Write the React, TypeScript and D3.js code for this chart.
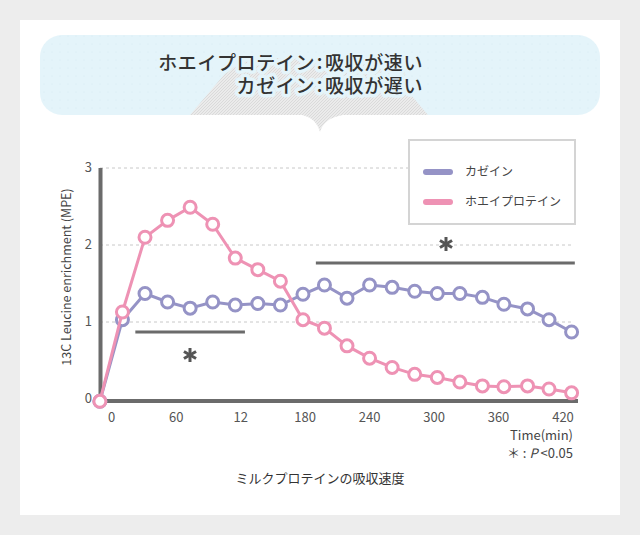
import React from "react";
import * as d3 from "d3";

const times = [-11, 10, 31, 52, 73, 94, 115, 136, 157, 178, 198, 219, 240, 261, 282, 303, 324, 345, 365, 387, 407, 428];
const casein = [-0.03, 1.03, 1.37, 1.26, 1.18, 1.26, 1.22, 1.24, 1.22, 1.36, 1.48, 1.31, 1.48, 1.45, 1.4, 1.37, 1.37, 1.32, 1.23, 1.17, 1.03, 0.87];
const whey = [-0.03, 1.13, 2.1, 2.32, 2.49, 2.27, 1.83, 1.68, 1.53, 1.03, 0.92, 0.69, 0.53, 0.41, 0.32, 0.28, 0.22, 0.17, 0.16, 0.17, 0.13, 0.08];
const xTicks = [0, 60, 120, 180, 240, 300, 360, 420];
const xTickLabels = ["0", "60", "12", "180", "240", "300", "360", "420"];
const yTicks = [0, 1, 2, 3];
const seriesNames = ["カゼイン", "ホエイプロテイン"];
const sig1 = [22, 124];
const sig2 = [190, 431];
const headerLines = [
  ["ホエイプロテイン", "吸収が速い"],
  ["カゼイン", "吸収が遅い"],
];

const PURPLE = "#9593c6";
const PINK = "#ee92b4";
const AXIS = "#6b6b6b";
const FONT = "'Noto Sans CJK JP', 'Noto Sans', sans-serif";

function Asterisk({ x, y, r = 7 }: { x: number; y: number; r?: number }) {
  const angles = [90, 30, 150];
  return (
    <g stroke="#555" strokeWidth={3}>
      {angles.map((a) => {
        const rad = (a * Math.PI) / 180;
        return (
          <line key={a} x1={x - r * Math.cos(rad)} y1={y - r * Math.sin(rad)} x2={x + r * Math.cos(rad)} y2={y + r * Math.sin(rad)} />
        );
      })}
    </g>
  );
}

export default function App() {
  const x = d3.scaleLinear().domain([0, 420]).range([111.7, 563]);
  const y = d3.scaleLinear().domain([0, 3]).range([399, 168]);
  const line = d3
    .line<number>()
    .x((_, i) => x(times[i]))
    .y((d) => y(d));
  const series = [
    { name: seriesNames[0], data: casein, color: PURPLE },
    { name: seriesNames[1], data: whey, color: PINK },
  ];
  const halo = { stroke: "#e4f4fa", strokeWidth: 7, paintOrder: "stroke" as const, strokeLinejoin: "round" as const };
  return (
    <svg width={640} height={535} style={{ position: "absolute", left: 0, top: 0 }} fontFamily={FONT}>
      <defs>
        <pattern id="hatch" width="3" height="3" patternUnits="userSpaceOnUse">
          <rect width="3" height="3" fill="#ebebeb" />
          <path d="M0,3 L3,0" stroke="#d6d6d6" strokeWidth="0.8" />
        </pattern>
        <pattern id="dots" width="8" height="8" patternUnits="userSpaceOnUse">
          <rect width="8" height="8" fill="#e4f4fa" />
          <circle cx="4" cy="4" r="0.6" fill="#d6ebf3" />
        </pattern>
      </defs>
      <rect width={640} height={535} fill="#ededed" />
      <rect x={20} y={20} width={600} height={495} fill="#ffffff" />
      {/* header bubble */}
      <rect x={40} y={35} width={560} height={80} rx={22} fill="url(#dots)" />
      <path d="M190,115 L228,70 L252,58 L400,58 L412,96 L428,115 Z" fill="url(#hatch)" />
      <path d="M302,115 Q316,118 320,132 Q324,118 343,115 Z" fill="url(#hatch)" />
      <text fontSize={19} fontWeight={500} fill="#333" letterSpacing={0.6} {...halo}>
        {headerLines.map((l, i) => (
          <React.Fragment key={i}>
            <tspan x={315} y={70 + i * 23} textAnchor="end">{l[0]}</tspan>
            <tspan x={320} y={69 + i * 23} textAnchor="middle">:</tspan>
            <tspan x={325} y={70 + i * 23} textAnchor="start">{l[1]}</tspan>
          </React.Fragment>
        ))}
      </text>
      {/* grid */}
      {yTicks.filter((t) => t > 0).map((t) => (
        <line key={t} x1={100} x2={574} y1={y(t)} y2={y(t)} stroke="#c8c8c8" strokeWidth={1} strokeDasharray="3,3" />
      ))}
      {/* legend */}
      <rect x={409} y={140} width={166} height={84} fill="#fff" stroke="#d4d4d4" strokeWidth={2} />
      {series.map((s, i) => (
        <g key={s.name}>
          <line x1={426} x2={450} y1={172 + i * 30} y2={172 + i * 30} stroke={s.color} strokeWidth={6} strokeLinecap="round" />
          <text x={465} y={176 + i * 30} fontSize={12} fill="#444">{s.name}</text>
        </g>
      ))}
      {/* significance */}
      <line x1={x(sig1[0])} x2={x(sig1[1])} y1={332} y2={332} stroke={AXIS} strokeWidth={3} />
      <Asterisk x={190} y={355} />
      <line x1={x(sig2[0])} x2={x(sig2[1])} y1={263} y2={263} stroke={AXIS} strokeWidth={3} />
      <Asterisk x={446} y={244} />
      {/* axes */}
      <line x1={100.5} x2={100.5} y1={168} y2={403} stroke={AXIS} strokeWidth={4} />
      <line x1={99} x2={578} y1={401} y2={401} stroke={AXIS} strokeWidth={4} />
      {yTicks.map((t) => (
        <text key={t} x={92} y={y(t) + 4} textAnchor="end" fontSize={13} fill="#555">{t}</text>
      ))}
      {xTicks.map((t, i) => (
        <text key={t} x={x(t)} y={422} textAnchor="middle" fontSize={13} fill="#555">{xTickLabels[i]}</text>
      ))}
      <text transform={`translate(71,277) rotate(-90)`} textAnchor="middle" fontSize={12.5} fill="#444">13C Leucine enrichment (MPE)</text>
      {/* series */}
      {series.map((s) => (
        <g key={s.name}>
          <path d={line(s.data) || ""} fill="none" stroke={s.color} strokeWidth={3} />
          {s.data.map((v, i) => (
            <circle key={i} cx={x(times[i])} cy={y(v)} r={6} fill="#fff" stroke={s.color} strokeWidth={3} />
          ))}
        </g>
      ))}
      <text x={573} y={440} textAnchor="end" fontSize={13} fill="#444">Time(min)</text>
      <text x={573} y={458} textAnchor="end" fontSize={13} fill="#444">
        ＊ : <tspan fontStyle="italic">P</tspan> &lt;0.05
      </text>
      <text x={320} y={483} textAnchor="middle" fontSize={13} fill="#333">ミルクプロテインの吸収速度</text>
    </svg>
  );
}
